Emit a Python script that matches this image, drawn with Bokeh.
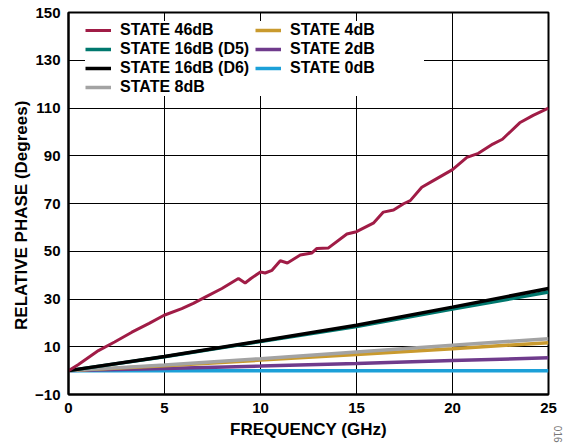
from bokeh.plotting import figure
from bokeh.models import Range1d, FixedTicker, Legend, LegendItem, Title
from bokeh.embed import file_html
from bokeh.resources import INLINE

# ---- data ----
freq_46 = [0, 0.5, 1.56, 2.4, 3.3, 4.2, 4.98, 5.9, 6.5, 7.12, 7.99, 8.85, 9.2, 9.5, 10.0,
           10.24, 10.6, 11.03, 11.4, 12.07, 12.68, 12.94, 13.54, 14.5, 15.0, 15.9, 16.4,
           16.93, 17.45, 17.8, 18.4, 19.0, 20.0, 20.75, 21.35, 22.1, 22.6, 23.5, 24.2, 25.0]
state_46 = [0, 2.5, 8.4, 12, 16.1, 19.8, 23.2, 26, 28.2, 30.8, 34.4, 38.6, 36.7, 38.6, 41.3,
            40.9, 42, 46, 45.1, 48.4, 49.3, 51.2, 51.4, 57.2, 58.2, 61.9, 66.4,
            67.3, 69.9, 71.2, 76.8, 79.6, 84.2, 89.3, 91, 94.9, 96.9, 103.8, 106.9, 110]

freq = [0, 5, 10, 15, 20, 25]
state_16_d5 = [0, 5.8, 12.2, 18.5, 25.8, 32.9]
state_16_d6 = [0, 5.9, 12.4, 19.0, 26.6, 34.4]
state_8 = [0, 2.4, 5.0, 7.8, 10.6, 13.4]
state_4 = [0, 2.0, 4.4, 6.8, 9.2, 11.7]
state_2 = [0, 0.9, 1.9, 3.0, 4.2, 5.4]
state_0 = [0, 0, 0, 0, 0, 0]

x_ticks = [0, 5, 10, 15, 20, 25]
y_ticks = [-10, 10, 30, 50, 70, 90, 110, 130, 150]

x_label = "FREQUENCY (GHz)"
y_label = "RELATIVE PHASE (Degrees)"
fig_id = "016"

FONT = "Liberation Sans"

p = figure(width=585, height=444, output_backend="svg", toolbar_location=None,
           x_range=Range1d(0, 25), y_range=Range1d(-10, 150),
           min_border_left=68, min_border_right=37, min_border_top=12, min_border_bottom=50)

p.background_fill_color = "white"
p.border_fill_color = "white"
p.outline_line_color = "black"
p.outline_line_width = 2

for ax in (p.xaxis, p.yaxis):
    ax.axis_line_width = 2
    ax.axis_line_color = "black"
    ax.major_tick_in = 0
    ax.major_tick_out = 0
    ax.minor_tick_in = 0
    ax.minor_tick_out = 0
    ax.major_label_text_font = FONT
    ax.major_label_text_font_style = "bold"
    ax.major_label_text_font_size = "15px"
    ax.major_label_text_color = "black"
    ax.axis_label_text_font = FONT
    ax.axis_label_text_font_style = "bold"
    ax.axis_label_text_font_size = "17px"
    ax.axis_label_text_color = "black"

p.xaxis.ticker = FixedTicker(ticks=x_ticks)
p.yaxis.ticker = FixedTicker(ticks=y_ticks)
p.yaxis.major_label_overrides = {-10: "\u221210"}
p.xaxis.major_label_standoff = 8
p.yaxis.major_label_standoff = 8
p.xaxis.axis_label = x_label
# non-breaking spaces nudge the centred title down, as in the reference
p.yaxis.axis_label = y_label + "\u00a0" * 5
p.xaxis.axis_label_standoff = 4
p.yaxis.axis_label_standoff = 1

p.xgrid.ticker = FixedTicker(ticks=x_ticks)
p.ygrid.ticker = FixedTicker(ticks=y_ticks)
for g in (p.xgrid, p.ygrid):
    g.grid_line_color = "black"
    g.grid_line_width = 1
    g.grid_line_alpha = 1

W = 3.5
r0 = p.line(freq, state_0, line_color="#1CA0D8", line_width=W)
r2 = p.line(freq, state_2, line_color="#6F3B8C", line_width=W)
r4 = p.line(freq, state_4, line_color="#C99A2E", line_width=W)
r8 = p.line(freq, state_8, line_color="#A3A3A3", line_width=W)
rd5 = p.line(freq, state_16_d5, line_color="#00786E", line_width=W)
rd6 = p.line(freq, state_16_d6, line_color="#000000", line_width=W)
r46 = p.line(freq_46, state_46, line_color="#A01C46", line_width=3)

legend = Legend(items=[
    LegendItem(label="STATE 46dB", renderers=[r46]),
    LegendItem(label="STATE 16dB (D5)", renderers=[rd5]),
    LegendItem(label="STATE 16dB (D6)", renderers=[rd6]),
    LegendItem(label="STATE 8dB", renderers=[r8]),
    LegendItem(label="STATE 4dB", renderers=[r4]),
    LegendItem(label="STATE 2dB", renderers=[r2]),
    LegendItem(label="STATE 0dB", renderers=[r0]),
], location=(17, 298), orientation="vertical", nrows=4)
legend.margin = 0
legend.padding = 10
legend.spacing = 1
legend.glyph_width = 26
legend.glyph_height = 18
legend.label_height = 18
legend.label_width = 134
legend.label_standoff = 9
legend.label_text_font = FONT
legend.label_text_font_style = "bold"
legend.label_text_font_size = "16px"
legend.label_text_color = "black"
legend.border_line_color = None
legend.background_fill_color = "white"
legend.background_fill_alpha = 1
p.add_layout(legend)

p.add_layout(Title(text=fig_id, align="right", offset=-48, text_font=FONT,
                   text_font_size="10px", text_font_style="normal",
                   text_color="#777777"), "right")

open("out.html", "w").write(file_html(p, INLINE))
